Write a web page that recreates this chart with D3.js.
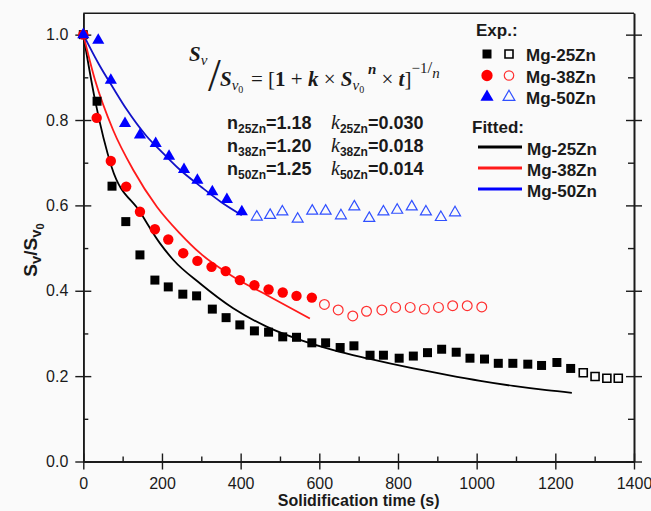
<!DOCTYPE html>
<html>
<head>
<meta charset="utf-8">
<script src="https://cdn.jsdelivr.net/npm/d3@7"></script>
<style>
  body { margin: 0; background: #fafafa; }
  svg { display: block; font-family: "Liberation Sans", Arial, sans-serif; }
</style>
</head>
<body>
<script>
const time25 = [0, 35, 73, 108, 144, 182, 216, 253, 288, 328, 363, 398, 435, 471, 507, 542, 581, 616, 653, 688,
  729, 763, 803, 839, 875, 911, 948, 983, 1020, 1055, 1092, 1130, 1165, 1204, 1239];
const value25 = [1.0, 0.844, 0.645, 0.562, 0.484, 0.425, 0.409, 0.392, 0.388, 0.357, 0.337, 0.320, 0.306, 0.303,
  0.292, 0.291, 0.278, 0.278, 0.267, 0.271, 0.249, 0.249, 0.242, 0.247, 0.255, 0.263, 0.256, 0.242, 0.240, 0.230,
  0.230, 0.228, 0.225, 0.232, 0.218];
const openTime25 = [1271, 1301, 1331, 1360];
const openValue25 = [0.208, 0.199, 0.195, 0.195];

const time38 = [0, 34, 70, 109, 144, 182, 216, 254, 290, 326, 362, 398, 435, 471, 507, 542, 581];
const value38 = [1.0, 0.805, 0.704, 0.644, 0.585, 0.544, 0.520, 0.488, 0.470, 0.456, 0.446, 0.425, 0.413, 0.403,
  0.396, 0.388, 0.384];
const openTime38 = [613, 648, 685, 720, 759, 794, 831, 867, 903, 939, 976, 1013];
const openValue38 = [0.368, 0.355, 0.341, 0.352, 0.355, 0.361, 0.361, 0.357, 0.361, 0.365, 0.365, 0.362];

const time50 = [0, 38, 70, 106, 144, 184, 218, 256, 290, 328, 365, 403];
const value50 = [1.0, 0.987, 0.893, 0.792, 0.765, 0.745, 0.715, 0.684, 0.659, 0.632, 0.614, 0.585];
const openTime50 = [441, 475, 506, 545, 582, 616, 655, 689, 727, 763, 798, 835, 871, 909, 945];
const openValue50 = [0.573, 0.577, 0.585, 0.568, 0.587, 0.587, 0.576, 0.597, 0.570, 0.585, 0.589, 0.597, 0.585,
  0.572, 0.583];

// Fitted curves
const fitTime25 = [0, 30, 72, 144, 195, 229, 297, 381, 466, 551, 636, 720, 839, 924, 1009, 1093, 1178, 1242];
const fitValue25 = [1.0, 0.846, 0.69, 0.585, 0.511, 0.472, 0.417, 0.359, 0.316, 0.285, 0.261, 0.242, 0.218, 0.203,
  0.189, 0.177, 0.167, 0.161];
const fitTime38 = [0, 30, 76, 127, 187, 246, 297, 381, 466, 576];
const fitValue38 = [1.0, 0.893, 0.776, 0.683, 0.597, 0.534, 0.488, 0.433, 0.390, 0.335];
const fitTime50 = [0, 40, 76, 110, 161, 200, 245, 300, 350, 403];
const fitValue50 = [1.0, 0.93, 0.875, 0.825, 0.762, 0.725, 0.684, 0.643, 0.608, 0.577];

const xTicks = [0, 200, 400, 600, 800, 1000, 1200, 1400];
const xMinorTicks = [100, 300, 500, 700, 900, 1100, 1300];
const yTicks = [0, 0.2, 0.4, 0.6, 0.8, 1.0];
const yMinorTicks = [0.1, 0.3, 0.5, 0.7, 0.9];

const fitLabels = [
  { n: "1.18", k: "0.030", sub: "25Zn" },
  { n: "1.20", k: "0.018", sub: "38Zn" },
  { n: "1.25", k: "0.014", sub: "50Zn" }
];

const width = 651;
const height = 511;
const plot = { left: 83.3, right: 634, top: 13.3, bottom: 461.5 };
const ink = "#1a1a1a";

const svg = d3.select("body").append("svg").attr("width", width).attr("height", height);

const x = d3.scaleLinear().domain([0, 1400]).range([plot.left, plot.right]);
const y = d3.scaleLinear().domain([0, 1.05]).range([plot.bottom, plot.top]);

const zip = (ts, vs) => ts.map((t, i) => [t, vs[i]]);

// ---- axes (Origin style: crossing major ticks, inward minor ticks)
const styleAxis = (g) => {
  g.selectAll("path, line").attr("stroke", ink).attr("stroke-width", 1.4);
  g.attr("font-family", "inherit").attr("font-size", 16).attr("fill", ink);
  g.selectAll("text").attr("fill", ink);
};
const addAxis = (axis, tx, ty) =>
  svg.append("g").attr("transform", `translate(${tx},${ty})`).call(axis).call(styleAxis);

addAxis(d3.axisBottom(x).tickValues(xTicks).tickSize(8).tickSizeOuter(0).tickPadding(8).tickFormat(d3.format("d")), 0, plot.bottom);
addAxis(d3.axisTop(x).tickValues(xTicks).tickSize(8).tickSizeOuter(0).tickFormat(""), 0, plot.bottom);
addAxis(d3.axisTop(x).tickValues(xMinorTicks).tickSize(5).tickSizeOuter(0).tickFormat(""), 0, plot.bottom);

addAxis(d3.axisLeft(y).tickValues(yTicks).tickSize(8).tickSizeOuter(0).tickPadding(7).tickFormat(d3.format(".1f")), plot.left, 0);
addAxis(d3.axisRight(y).tickValues(yTicks).tickSize(8).tickSizeOuter(0).tickFormat(""), plot.left, 0);
addAxis(d3.axisRight(y).tickValues(yMinorTicks).tickSize(5).tickSizeOuter(0).tickFormat(""), plot.left, 0);

addAxis(d3.axisRight(y).tickValues(yTicks).tickSize(8).tickSizeOuter(0).tickFormat(""), plot.right, 0);
addAxis(d3.axisLeft(y).tickValues(yTicks).tickSize(8).tickSizeOuter(0).tickFormat(""), plot.right, 0);
addAxis(d3.axisLeft(y).tickValues(yMinorTicks).tickSize(6).tickSizeOuter(0).tickFormat(""), plot.right, 0);

svg.append("line")
  .attr("x1", plot.left).attr("x2", plot.right)
  .attr("y1", plot.top).attr("y2", plot.top)
  .attr("stroke", ink).attr("stroke-width", 1.4);

// ---- axis titles
svg.append("text")
  .attr("x", (plot.left + plot.right) / 2)
  .attr("y", 506)
  .attr("text-anchor", "middle")
  .attr("font-size", 16)
  .attr("font-weight", "bold")
  .attr("fill", ink)
  .text("Solidification time (s)");

const yTitle = svg.append("text")
  .attr("transform", "translate(37,250) rotate(-90)")
  .attr("text-anchor", "middle")
  .attr("font-size", 19)
  .attr("font-weight", "bold")
  .attr("fill", ink);
yTitle.append("tspan").text("S");
yTitle.append("tspan").attr("font-size", 15).attr("dy", 4).text("v");
yTitle.append("tspan").attr("dy", -4).text("/S");
yTitle.append("tspan").attr("font-size", 15).attr("dy", 4).text("v");
yTitle.append("tspan").attr("font-size", 11).attr("dy", 3).text("0");

// ---- fitted curves
const line = d3.line().x((d) => x(d[0])).y((d) => y(d[1])).curve(d3.curveMonotoneX);
const curves = [
  { data: zip(fitTime25, fitValue25), color: "#000000" },
  { data: zip(fitTime38, fitValue38), color: "#ff1a1a" },
  { data: zip(fitTime50, fitValue50), color: "#1212c8" }
];
svg.append("g").selectAll("path").data(curves).join("path")
  .attr("d", (d) => line(d.data))
  .attr("fill", "none")
  .attr("stroke", (d) => d.color)
  .attr("stroke-width", 1.8);

// ---- experimental markers
const squareSym = d3.symbol(d3.symbolSquare, 81);
const circleSym = d3.symbol(d3.symbolCircle, 85);
const triSym = d3.symbol(d3.symbolTriangle, 64);
const triOpenSym = d3.symbol(d3.symbolTriangle, 52);

const drawPoints = (data, sym, fill, stroke, strokeWidth) =>
  svg.append("g").selectAll("path").data(data).join("path")
    .attr("d", sym)
    .attr("transform", (d) => `translate(${x(d[0])},${y(d[1])})`)
    .attr("fill", fill)
    .attr("stroke", stroke)
    .attr("stroke-width", strokeWidth);

drawPoints(zip(time25, value25), squareSym, "#000", "none", 0);
drawPoints(zip(openTime25, openValue25), d3.symbol(d3.symbolSquare, 64), "none", "#000", 1.6);
drawPoints(zip(time38, value38), circleSym, "#ff0000", "none", 0);
drawPoints(zip(openTime38, openValue38), d3.symbol(d3.symbolCircle, 75), "none", "#ff3030", 1.2);
drawPoints(zip(time50, value50), triSym, "#0000ff", "none", 0);
drawPoints(zip(openTime50, openValue50), triOpenSym, "none", "#3050ff", 1.2);

// ---- formula
const serif = "'Liberation Serif', 'Times New Roman', serif";
const f1 = svg.append("text").attr("x", 189).attr("y", 61).attr("font-family", serif).attr("fill", ink);
f1.append("tspan").attr("font-size", 21).attr("font-weight", "bold").attr("font-style", "italic").text("S");
f1.append("tspan").attr("font-size", 15).attr("font-style", "italic").attr("dy", 4).text("v");

svg.append("text").attr("x", 208).attr("y", 91)
  .attr("font-family", serif).attr("font-size", 46).attr("fill", ink).text("/");

const f2 = svg.append("text").attr("x", 220).attr("y", 86).attr("font-family", serif).attr("fill", ink);
f2.append("tspan").attr("font-size", 21).attr("font-weight", "bold").attr("font-style", "italic").text("S");
f2.append("tspan").attr("font-size", 15).attr("font-style", "italic").attr("dy", 4).text("v");
f2.append("tspan").attr("font-size", 10).attr("dy", 3).text("0");

const f3 = svg.append("text").attr("x", 251).attr("y", 86).attr("font-family", serif)
  .attr("font-size", 21).attr("fill", ink);
f3.append("tspan").text("= [");
f3.append("tspan").attr("font-weight", "bold").text("1");
f3.append("tspan").text(" + ");
f3.append("tspan").attr("font-weight", "bold").attr("font-style", "italic").text("k");
f3.append("tspan").text(" × ");
f3.append("tspan").attr("font-weight", "bold").attr("font-style", "italic").text("S");
f3.append("tspan").attr("font-size", 15).attr("font-style", "italic").attr("dy", 4).text("v");
f3.append("tspan").attr("font-size", 10).attr("dy", 3).text("0");
f3.append("tspan").attr("font-size", 15).attr("font-weight", "bold").attr("font-style", "italic").attr("dy", -19).text(" n");
f3.append("tspan").attr("dy", 12).text(" × ");
f3.append("tspan").attr("font-weight", "bold").attr("font-style", "italic").text("t");
f3.append("tspan").text("]");
f3.append("tspan").attr("font-size", 15).attr("dy", -13).text("−1");
f3.append("tspan").attr("font-size", 17).attr("dy", 0).text("/");
f3.append("tspan").attr("font-size", 15).attr("font-style", "italic").attr("dy", 5).text("n");

// ---- fit parameters
fitLabels.forEach((p, i) => {
  const yy = 128.5 + i * 23;
  const tn = svg.append("text").attr("x", 227).attr("y", yy)
    .attr("font-size", 18).attr("font-weight", "bold").attr("fill", ink);
  tn.append("tspan").text("n");
  tn.append("tspan").attr("font-size", 12).attr("dy", 4).text(p.sub);
  tn.append("tspan").attr("dy", -4).text(`=${p.n}`);

  const tk = svg.append("text").attr("x", 331).attr("y", yy).attr("fill", ink);
  tk.append("tspan").attr("font-family", serif).attr("font-style", "italic").attr("font-size", 20).text("k");
  tk.append("tspan").attr("font-size", 12).attr("font-weight", "bold").attr("dy", 4).text(p.sub);
  tk.append("tspan").attr("font-size", 18).attr("font-weight", "bold").attr("dy", -4).text(`=${p.k}`);
});

// ---- legend
const legend = svg.append("g").attr("font-size", 17).attr("font-weight", "bold").attr("fill", ink);
legend.append("text").attr("x", 476).attr("y", 36).text("Exp.:");

const expRows = [
  { label: "Mg-25Zn", filled: squareSym, open: d3.symbol(d3.symbolSquare, 64), fill: "#000", stroke: "#000", sw: 1.6 },
  { label: "Mg-38Zn", filled: d3.symbol(d3.symbolCircle, 100), open: d3.symbol(d3.symbolCircle, 70), fill: "#ff0000", stroke: "#ff3030", sw: 1.2 },
  { label: "Mg-50Zn", filled: d3.symbol(d3.symbolTriangle, 75), open: d3.symbol(d3.symbolTriangle, 60), fill: "#0000ff", stroke: "#3050ff", sw: 1.2 }
];
expRows.forEach((r, i) => {
  const base = [61, 82.5, 104][i];
  legend.append("path").attr("d", r.filled).attr("transform", `translate(487,${base - 7})`)
    .attr("fill", r.fill);
  legend.append("path").attr("d", r.open).attr("transform", `translate(509,${base - 7})`)
    .attr("fill", "none").attr("stroke", r.stroke).attr("stroke-width", r.sw);
  legend.append("text").attr("x", 526).attr("y", base).text(r.label);
});

legend.append("text").attr("x", 472).attr("y", 133).text("Fitted:");
const fitRows = [
  { label: "Mg-25Zn", color: "#000000" },
  { label: "Mg-38Zn", color: "#ff1a1a" },
  { label: "Mg-50Zn", color: "#0000ff" }
];
fitRows.forEach((r, i) => {
  const base = 155 + i * 21;
  legend.append("line").attr("x1", 478).attr("x2", 522).attr("y1", base - 8).attr("y2", base - 8)
    .attr("stroke", r.color).attr("stroke-width", 3);
  legend.append("text").attr("x", 527).attr("y", base).text(r.label);
});
</script>
</body>
</html>
